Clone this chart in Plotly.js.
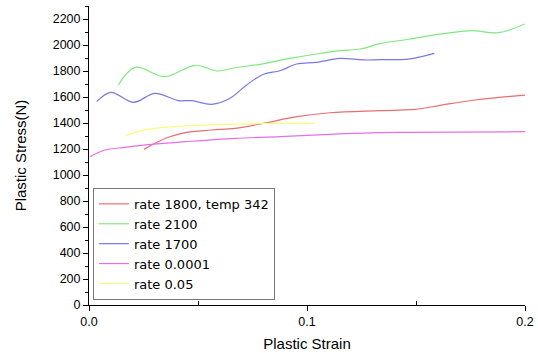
<!DOCTYPE html>
<html>
<head>
<meta charset="utf-8">
<script src="https://cdn.plot.ly/plotly-3.0.1.min.js"></script>
<style>html,body{margin:0;padding:0;background:#fff;}#chart{width:538px;height:353px;}</style>
</head>
<body>
<div id="chart"></div>
<script>
// Series names
const seriesNames = ["rate 1800, temp 342", "rate 2100", "rate 1700", "rate 0.0001", "rate 0.05"];

// rate 1800, temp 342 (red)
const redX = [0.0252, 0.0303, 0.0364, 0.044, 0.0563, 0.067, 0.08, 0.0953, 0.1106, 0.1335, 0.1495, 0.1618, 0.1771, 0.2];
const redY = [1197, 1244, 1290, 1326, 1346, 1359, 1397, 1449, 1479, 1495, 1505, 1538, 1577, 1615];

// rate 2100 (green)
const greenX = [0.0134, 0.0212, 0.0349, 0.0486, 0.059, 0.067, 0.0784, 0.0922, 0.1044, 0.1151, 0.1243, 0.1335, 0.1465, 0.1618, 0.1755, 0.1878, 0.2];
const greenY = [1692, 1828, 1756, 1844, 1800, 1825, 1851, 1897, 1931, 1956, 1969, 2010, 2044, 2085, 2110, 2095, 2162];

// rate 1700 (blue)
const blueX = [0.0035, 0.0101, 0.0203, 0.0303, 0.041, 0.0471, 0.0563, 0.0647, 0.0723, 0.08, 0.0876, 0.0953, 0.1044, 0.1151, 0.1258, 0.1335, 0.1465, 0.1584];
const blueY = [1564, 1636, 1559, 1628, 1572, 1572, 1544, 1590, 1692, 1775, 1802, 1854, 1867, 1897, 1885, 1887, 1892, 1936];

// rate 0.0001 (pink)
const pinkX = [0.0005, 0.0073, 0.0165, 0.0288, 0.044, 0.067, 0.0876, 0.1106, 0.1335, 0.1465, 0.2];
const pinkY = [1141, 1192, 1213, 1236, 1256, 1282, 1295, 1313, 1326, 1328, 1333];

// rate 0.05 (yellow)
const yellowX = [0.0168, 0.0242, 0.0333, 0.0471, 0.067, 0.0853, 0.1037];
const yellowY = [1302, 1341, 1364, 1380, 1392, 1397, 1397];

const colors = ["rgb(232,110,110)", "rgb(130,230,130)", "rgb(120,120,230)", "rgb(232,110,232)", "rgb(250,250,130)"];
const xs = [redX, greenX, blueX, pinkX, yellowX];
const ys = [redY, greenY, blueY, pinkY, yellowY];

const traces = seriesNames.map((n, i) => ({
  x: xs[i], y: ys[i], name: n, type: "scatter", mode: "lines",
  line: {color: colors[i], width: 1.2, shape: "spline", smoothing: 1}
}));

const layout = {
  width: 538, height: 353,
  margin: {l: 89, r: 13, t: 6, b: 48},
  paper_bgcolor: "#fff", plot_bgcolor: "#fff",
  font: {family: "Liberation Sans, Arial, sans-serif", color: "#000"},
  showlegend: true,
  xaxis: {
    range: [0, 0.2], tickvals: [0, 0.1, 0.2], ticktext: ["0.0", "0.1", "0.2"],
    showgrid: false, zeroline: false, showline: true, linecolor: "#000", linewidth: 1,
    ticks: "outside", ticklen: 5, tickcolor: "#000", tickfont: {size: 12.5},
    minor: {tickvals: [0.05, 0.15], ticks: "inside", ticklen: 4, tickcolor: "#000", showgrid: false},
    title: {text: "Plastic Strain", font: {size: 15}, standoff: 10}
  },
  yaxis: {
    range: [0, 2300], dtick: 200, tick0: 0,
    showgrid: false, zeroline: false, showline: true, linecolor: "#000", linewidth: 1,
    ticks: "outside", ticklen: 5, tickcolor: "#000", tickfont: {size: 12.5},
    minor: {dtick: 100, ticks: "outside", ticklen: 3, tickcolor: "#000", showgrid: false},
    title: {text: "Plastic Stress(N)", font: {size: 15}, standoff: 22}
  },
  legend: {
    x: 0.009, y: 0.017, xanchor: "left", yanchor: "bottom",
    bgcolor: "#fff", bordercolor: "#777", borderwidth: 1,
    font: {size: 13, family: "DejaVu Sans, sans-serif"}, tracegroupgap: 0, itemwidth: 30
  }
};

Plotly.newPlot("chart", traces, layout, {displayModeBar: false, staticPlot: true});
</script>
</body>
</html>
